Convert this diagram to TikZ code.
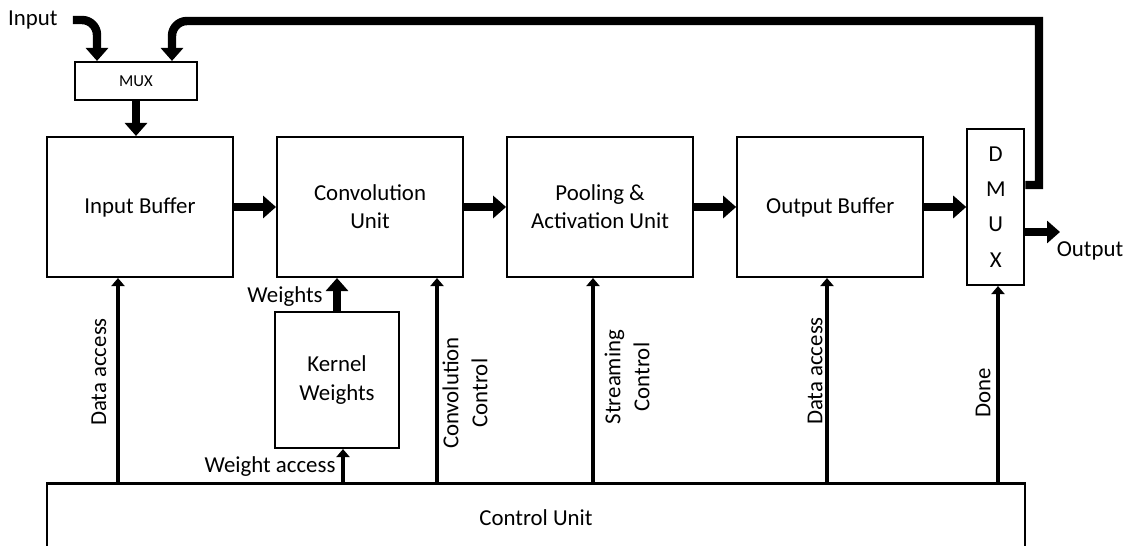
\documentclass[tikz,border=0pt]{standalone}
\usepackage{fontspec}
\setmainfont{Carlito}
\usetikzlibrary{arrows.meta,positioning}
\tikzset{
  unitbox/.style={draw=black, line width=1.2pt, rectangle, minimum width=3.72cm, minimum height=2.8cm, align=center, font=\fontsize{13}{16}\selectfont},
  bus/.style={line width=4.8pt, draw=black, -{Triangle[length=0.26cm,width=0.44cm]}},
  ctl/.style={line width=2.2pt, draw=black, -{Triangle[length=0.16cm,width=0.26cm]}},
  sidelabel/.style={font=\fontsize{13}{16.5}\selectfont, align=center, inner sep=0pt}
}
\begin{document}
\begin{tikzpicture}[x=0.02cm, y=-0.02cm, node distance=0.84cm]
  \path[use as bounding box, clip] (0,0) rectangle (1126,546);
  % main data path
  \node[unitbox] (inbuf) at (140,207) {Input Buffer};
  \node[unitbox, right=of inbuf] (conv) {Convolution\\Unit};
  \node[unitbox, right=of conv] (pool) {Pooling \&\\Activation Unit};
  \node[unitbox, right=of pool] (outbuf) {Output Buffer};
  \node[unitbox, right=of outbuf, minimum width=1.14cm, minimum height=3.12cm, font=\fontsize{13}{20}\selectfont] (dmux) {D\\M\\U\\X};
  \node[draw, line width=1.2pt, minimum width=2.44cm, minimum height=0.76cm, font=\fontsize{9.5}{11}\selectfont] (mux) at (136,81) {MUX};
  \node[unitbox, minimum width=2.48cm, minimum height=2.72cm] (kernel) at (337,380) {Kernel\\Weights};
  \node[draw, line width=1.5pt, minimum width=19.56cm, minimum height=1.36cm, anchor=north, font=\fontsize{13}{16}\selectfont] (ctrl) at (536,482) {Control Unit};
  % labels
  \node[sidelabel, anchor=east] (inlbl) at (58,20) {Input};
  \node[sidelabel] (outlbl) at (1090,251) {Output};
  \node[sidelabel] (wlbl) at (285,297) {Weights};
  \node[sidelabel] (walbl) at (270,467) {Weight access};
  \node[sidelabel, rotate=90] (da1lbl) at (99,372) {Data access};
  \node[sidelabel, rotate=90] (cclbl) at (465,393) {Convolution\\Control};
  \node[sidelabel, rotate=90] (sclbl) at (627,377) {Streaming\\Control};
  \node[sidelabel, rotate=90] (da2lbl) at (815,371) {Data access};
  \node[sidelabel, rotate=90] (donelbl) at (983,393) {Done};
  % x positions of the control lines
  \coordinate (xda1) at (118,0);
  \coordinate (xwa) at (343,0);
  \coordinate (xcc) at (437,0);
  \coordinate (xsc) at (593,0);
  \coordinate (xda2) at (827,0);
  \coordinate (xdone) at (998,0);
  \coordinate (fbtop) at (1039,21);
  \coordinate (outtip) at (1060,232);
  % data arrows
  \draw[bus] (inbuf.east) -- (conv.west);
  \draw[bus] (conv.east) -- (pool.west);
  \draw[bus] (pool.east) -- (outbuf.west);
  \draw[bus] (outbuf.east) -- (dmux.west);
  \draw[bus] (mux.south) -- (mux.south |- inbuf.north);
  \draw[bus] (kernel.north) -- (kernel.north |- conv.south);
  \draw[bus, rounded corners=0.3cm] ([xshift=0.3cm]inlbl.east) -| ([xshift=-0.78cm]mux.north);
  \draw[bus] (dmux.east |- 0,185) -- (fbtop |- 0,185) -- (fbtop) [rounded corners=0.3cm] -- (172,21) -- ([xshift=0.72cm]mux.north);
  \draw[bus] (dmux.east |- outtip) -- (outtip);
  % control arrows
  \draw[ctl] (ctrl.north -| xda1) -- (inbuf.south -| xda1);
  \draw[ctl] (ctrl.north -| xwa) -- (kernel.south -| xwa);
  \draw[ctl] (ctrl.north -| xcc) -- (conv.south -| xcc);
  \draw[ctl] (ctrl.north -| xsc) -- (pool.south -| xsc);
  \draw[ctl] (ctrl.north -| xda2) -- (outbuf.south -| xda2);
  \draw[ctl] (ctrl.north -| xdone) -- (dmux.south -| xdone);
\end{tikzpicture}
\end{document}
